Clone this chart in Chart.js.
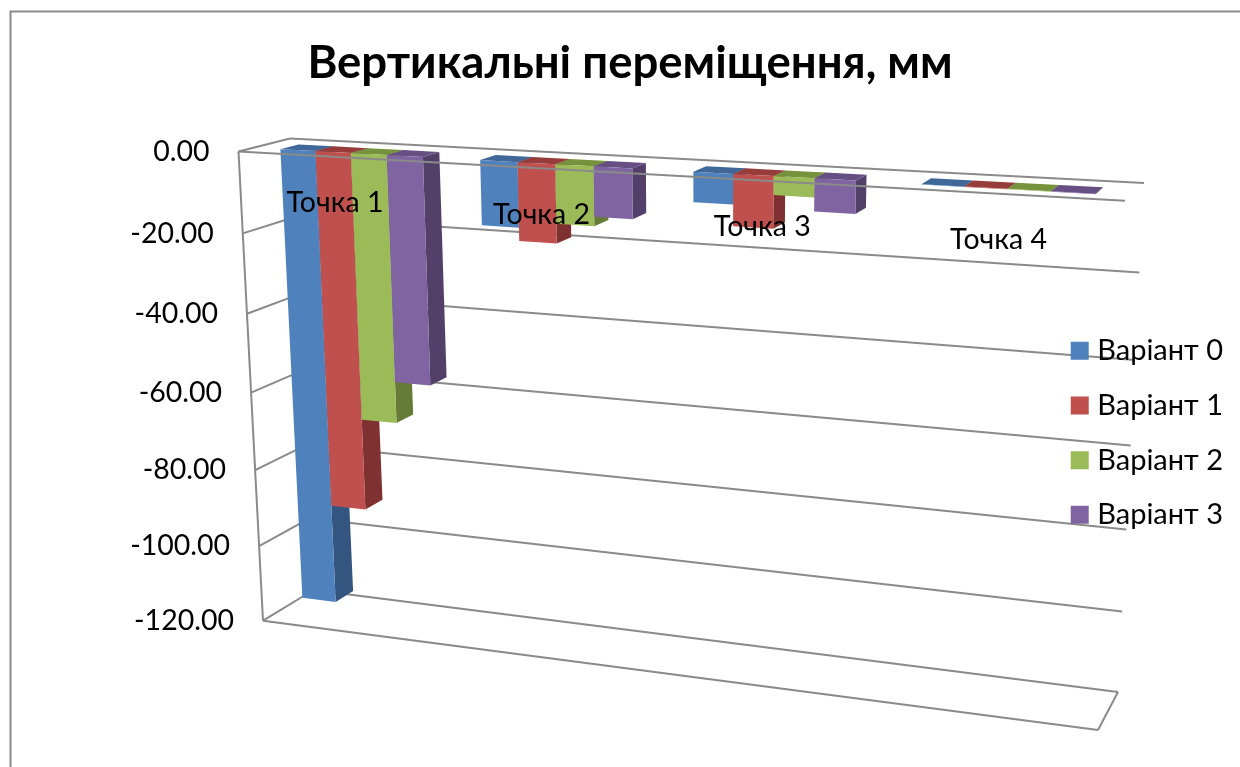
<!DOCTYPE html>
<html>
<head>
<meta charset="utf-8">
<title>Вертикальні переміщення</title>
<script src="https://cdn.jsdelivr.net/npm/chart.js@4"></script>
<style>
html, body { margin: 0; padding: 0; background: #fff; overflow: hidden; }
canvas { display: block; }
</style>
</head>
<body>
<canvas id="chart-displacement" width="1240" height="767"></canvas>
<script>
// Data
let categories = ['Точка 1', 'Точка 2', 'Точка 3', 'Точка 4'];
let seriesNames = ['Варіант 0', 'Варіант 1', 'Варіант 2', 'Варіант 3'];
let variant0 = [-115.3, -15.5, -7, -0.1];
let variant1 = [-89.6, -18.7, -12, -0.1];
let variant2 = [-66.3, -14, -4.3, -0.1];
let variant3 = [-55.9, -11.8, -7.5, -0.1];
let tickValues = [0, -20, -40, -60, -80, -100, -120];

// Colours: front, side, top
let frontColors = ['#4F81BD', '#C0504D', '#9BBB59', '#8064A2'];
let sideColors = ['#34557F', '#7F3030', '#657B37', '#534069'];
let topColors = ['#3F6797', '#963C3A', '#76923C', '#664F83'];
let gridColor = '#8a8a8a';
let fontName = 'Lato, "Open Sans", sans-serif';

// Corners of the 3D box on the page (top-left, top-right, bottom-right, bottom-left)
let frontQuad = [[238.5, 151.5], [1125, 200.7], [1098, 730], [263, 620.7]];
let backQuad = [[290, 138.5], [1144, 183], [1118, 692], [313.5, 590]];
let barDepth = [0.35, 0.71];

function quadMap(q) {
    let [x0, y0] = q[0], [x1, y1] = q[1], [x2, y2] = q[2], [x3, y3] = q[3];
    let dx1 = x1 - x2, dx2 = x3 - x2, dx3 = x0 - x1 + x2 - x3;
    let dy1 = y1 - y2, dy2 = y3 - y2, dy3 = y0 - y1 + y2 - y3;
    let den = dx1 * dy2 - dx2 * dy1;
    let g = (dx3 * dy2 - dx2 * dy3) / den;
    let h = (dx1 * dy3 - dx3 * dy1) / den;
    let a = x1 - x0 + g * x1, b = x3 - x0 + h * x3;
    let d = y1 - y0 + g * y1, e = y3 - y0 + h * y3;
    return (u, v) => {
        let k = g * u + h * v + 1;
        return [(a * u + b * v + x0) / k, (d * u + e * v + y0) / k];
    };
}
let frontMap = quadMap(frontQuad);
let backMap = quadMap(backQuad);

// u, v in 0..1 across the plot, w: 0 back wall, 1 front edge
function project(u, v, w) {
    let f = frontMap(u, v), b = backMap(u, v);
    return [b[0] + (f[0] - b[0]) * w, b[1] + (f[1] - b[1]) * w];
}

function fillPoly(ctx, pts, color) {
    ctx.beginPath();
    pts.forEach((p, i) => i ? ctx.lineTo(p[0], p[1]) : ctx.moveTo(p[0], p[1]));
    ctx.closePath();
    ctx.fillStyle = color;
    ctx.fill();
}

function line(ctx, a, b) {
    ctx.beginPath();
    ctx.moveTo(a[0], a[1]);
    ctx.lineTo(b[0], b[1]);
    ctx.stroke();
}

function valueToV(chart, value) {
    let area = chart.chartArea;
    return (chart.scales.y.getPixelForValue(value) - area.top) / area.height;
}

let box3d = {
    id: 'box3d',
    beforeDraw(chart) {
        let ctx = chart.ctx;
        ctx.save();
        // outer frame
        ctx.strokeStyle = gridColor;
        ctx.lineWidth = 2;
        ctx.beginPath();
        ctx.moveTo(10.5, 767);
        ctx.lineTo(10.5, 11.5);
        ctx.lineTo(1240, 11.5);
        ctx.stroke();
        // grid on the back wall and left wall
        ctx.lineWidth = 2;
        tickValues.forEach(t => {
            let v = valueToV(chart, t);
            line(ctx, project(0, v, 0), project(1, v, 0));
            line(ctx, project(0, v, 0), project(0, v, 1));
        });
        // left edge and floor
        line(ctx, project(0, 0, 1), project(0, 1, 1));
        line(ctx, project(0, 1, 1), project(1, 1, 1));
        line(ctx, project(1, 1, 1), project(1, 1, 0));
        ctx.restore();
    },
    beforeDatasetsDraw(chart) {
        let ctx = chart.ctx, area = chart.chartArea;
        let [w0, w1] = barDepth;
        ctx.save();
        chart.data.datasets.forEach((ds, d) => {
            chart.getDatasetMeta(d).data.forEach(bar => {
                let u0 = (bar.x - bar.width / 2 - area.left) / area.width;
                let u1 = (bar.x + bar.width / 2 - area.left) / area.width;
                let vTop = (bar.base - area.top) / area.height;
                let vEnd = (bar.y - area.top) / area.height;
                fillPoly(ctx, [project(u1, vTop, w1), project(u1, vTop, w0), project(u1, vEnd, w0), project(u1, vEnd, w1)], sideColors[d]);
                fillPoly(ctx, [project(u0, vTop, w1), project(u1, vTop, w1), project(u1, vTop, w0), project(u0, vTop, w0)], topColors[d]);
                fillPoly(ctx, [project(u0, vTop, w1), project(u1, vTop, w1), project(u1, vEnd, w1), project(u0, vEnd, w1)], frontColors[d]);
            });
        });
        ctx.restore();
        return false;
    },
    afterDraw(chart) {
        let ctx = chart.ctx, area = chart.chartArea;
        ctx.save();
        // front edge of the zero plane runs over the bars
        ctx.strokeStyle = gridColor;
        ctx.lineWidth = 2;
        line(ctx, project(0, 0, 1), project(1, 0, 1));
        ctx.fillStyle = '#000';
        ctx.font = '28.5px ' + fontName;
        ctx.textBaseline = 'middle';
        // value axis labels
        ctx.textAlign = 'right';
        tickValues.forEach(t => {
            let p = project(0, valueToV(chart, t), 1);
            ctx.fillText(t.toFixed(2), p[0] - 29, p[1]);
        });
        // category labels
        ctx.textAlign = 'center';
        categories.forEach((c, i) => {
            let u = (chart.scales.x.getPixelForValue(i) - area.left) / area.width;
            let p = project(u, 0, 1);
            ctx.fillText(c, p[0] - 2, p[1] + 46);
        });
        ctx.restore();
    }
};

let chartDisplacement = document.getElementById('chart-displacement').getContext('2d');

let chart1 = new Chart(chartDisplacement, {
    type: 'bar',
    data: {
        labels: categories,
        datasets: [
            { label: seriesNames[0], data: variant0, backgroundColor: frontColors[0] },
            { label: seriesNames[1], data: variant1, backgroundColor: frontColors[1] },
            { label: seriesNames[2], data: variant2, backgroundColor: frontColors[2] },
            { label: seriesNames[3], data: variant3, backgroundColor: frontColors[3] }
        ]
    },
    options: {
        responsive: false,
        animation: false,
        categoryPercentage: 0.72,
        barPercentage: 1,
        layout: { padding: { left: 27, right: 7, top: 36 } },
        scales: {
            x: { display: false },
            y: { display: false, min: -120, max: 0 }
        },
        plugins: {
            title: {
                display: true,
                text: 'Вертикальні переміщення, мм',
                color: '#000',
                font: { family: fontName, size: 45.5, weight: 'bold' },
                padding: { top: 0, bottom: 8 }
            },
            legend: {
                position: 'right',
                fullSize: false,
                labels: {
                    usePointStyle: true,
                    pointStyle: 'rect',
                    boxWidth: 6,
                    boxHeight: 18,
                    color: '#000',
                    padding: 25.7,
                    font: { family: fontName, size: 29 }
                }
            },
            tooltip: { enabled: false }
        }
    },
    plugins: [box3d]
});
</script>
</body>
</html>
